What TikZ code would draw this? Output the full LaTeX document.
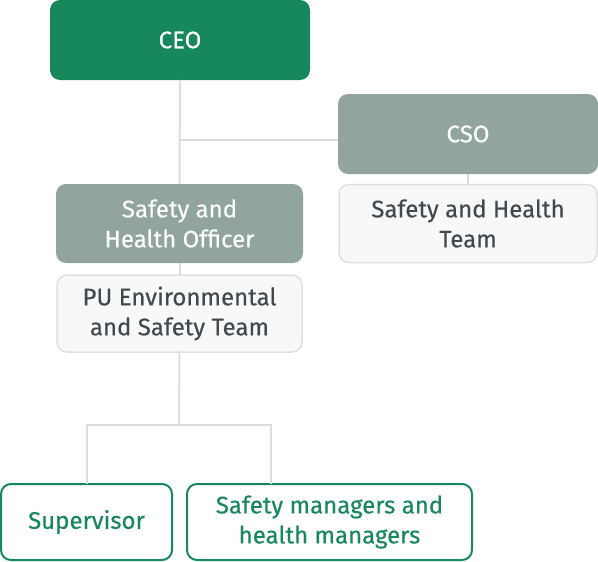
\documentclass[tikz,border=0pt]{standalone}
\usepackage{fontspec}
\setmainfont{Fira Sans}[FakeBold=0.3]
\definecolor{ceogreen}{HTML}{17875D}
\definecolor{headgray}{HTML}{91A49F}
\definecolor{teamfill}{HTML}{F8F8F8}
\definecolor{teamline}{HTML}{E0E0E0}
\definecolor{linkgray}{HTML}{DDDDDD}
\definecolor{textgray}{HTML}{3F4A50}

\tikzset{
  box/.style={rectangle, rounded corners=10pt, align=center, outer sep=0pt,
    inner sep=0pt, font=\fontsize{24}{30}\selectfont},
  topbox/.style={box, fill=ceogreen, text=white},
  headbox/.style={box, fill=headgray, text=white},
  teambox/.style={box, fill=teamfill, draw=teamline, line width=1.5pt, text=textgray},
  staffbox/.style={box, fill=white, draw=ceogreen, line width=2pt, text=ceogreen},
  link/.style={draw=linkgray, line width=2pt},
}

\begin{document}
\begin{tikzpicture}[x=1pt, y=-1pt]
  \useasboundingbox (0,0) rectangle (598,562);
  % boxes
  \node[topbox, minimum width=260, minimum height=80] (ceo) at(180,40){CEO};
  \node[headbox, minimum width=260, minimum height=80] (cso) at(468,134){CSO};
  \node[teambox, minimum width=258, minimum height=78] (sht) at(468,223.5){Safety and Health\\Team};
  \node[headbox, minimum width=247, minimum height=79] (sho) at(179.5,223.5){Safety and\\Health Officer};
  \node[teambox, minimum width=245, minimum height=77] (pu) at(179.5,313.5){PU Environmental\\and Safety Team};
  \node[staffbox, minimum width=171, minimum height=76] (sup) at(86.5,522){Supervisor};
  \node[staffbox, minimum width=285, minimum height=76] (mgr) at(329.5,522){Safety managers and\\health managers};
  % links
  \coordinate (branch) at(179,140);
  \coordinate (split) at(179,425);
  \draw[link] (ceo.south) -- (sho.north);
  \draw[link] (branch) -- (branch -| cso.west);
  \draw[link] (cso.south) -- (sht.north);
  \draw[link] (sho.south) -- (pu.north);
  \draw[link] (pu.south) -- (split);
  \draw[link] (split) -| (sup.north);
  \draw[link] (split) -| ([xshift=-58.5]mgr.north);
\end{tikzpicture}
\end{document}
